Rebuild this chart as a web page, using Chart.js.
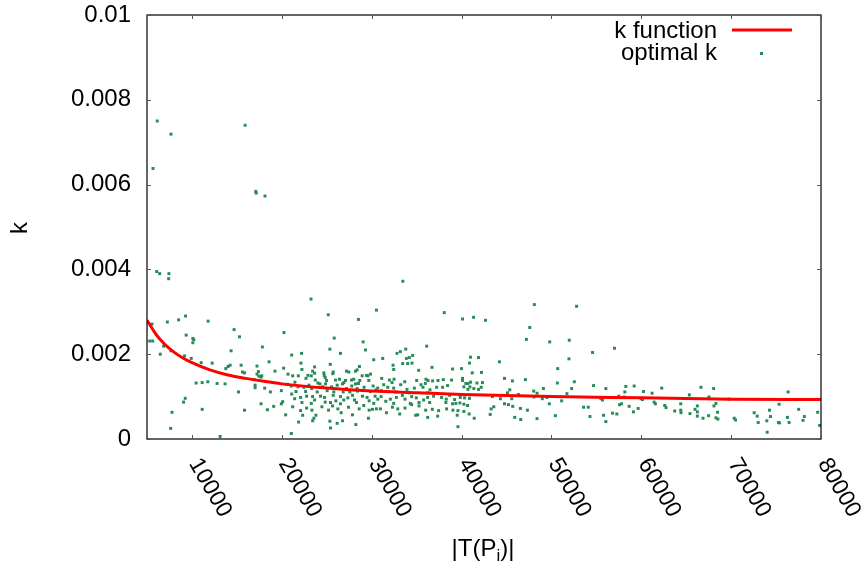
<!DOCTYPE html>
<html>
<head>
<meta charset="utf-8">
<script src="https://cdn.jsdelivr.net/npm/chart.js@4/dist/chart.umd.min.js"></script>
<style>
  html, body { margin: 0; padding: 0; background: #fff; }
  #wrap { width: 865px; height: 566px; }
</style>
</head>
<body>
<div id="wrap"><canvas id="c" width="865" height="566"></canvas></div>
<script>
// ---- data ----
const xTickValues = [10000, 20000, 30000, 40000, 50000, 60000, 70000, 80000];
const yTickValues = [0, 0.002, 0.004, 0.006, 0.008, 0.01];

// k function (red curve), sampled along |T(P_i)|
const curveX = [5000, 6000, 7000, 8000, 9000, 10000, 12000, 14000, 16000, 18000, 20000, 25000, 30000, 35000, 40000, 50000, 60000, 70000, 80000];
const curveK = [0.0028, 0.00247, 0.00223, 0.00205, 0.00191, 0.0018, 0.00163, 0.00151, 0.00143, 0.00136, 0.0013, 0.0012, 0.00113, 0.00109, 0.00105, 0.001, 0.00097, 0.00094, 0.00093];

// optimal k (green points): [ |T(P_i)| , k ]
const optimalPts = [
[6140,0.0075],[7670,0.00719],[5670,0.00638],[15920,0.0074],[17100,0.00584],[17150,0.0058],[18130,0.00573],[6080,0.00395],[6410,0.0039],[7440,0.0039],[7410,0.00378],[23250,0.0033],[33470,0.00372],[48100,0.00317],[52800,0.00313],[38080,0.00298],[40110,0.00283],[41340,0.00287],[42670,0.0028],[25170,0.00293],[30530,0.00304],[28530,0.00282],[25830,0.00238],[29050,0.00229],[47590,0.00263],[47220,0.00235],[49810,0.00229],[51990,0.00233],[57020,0.00214],[54580,0.00204],[51950,0.00189],[44220,0.00182],[41000,0.00193],[41890,0.00192],[40890,0.00179],[39000,0.00165],[40000,0.00166],[41190,0.00156],[42220,0.00157],[50700,0.00166],
[5560,0.00271],[7260,0.00276],[8520,0.00281],[9290,0.0029],[11800,0.00278],[5300,0.00231],[5630,0.00231],[6480,0.002],[6850,0.00219],[7660,0.00208],[9360,0.00245],[10100,0.00237],[10210,0.00234],[10100,0.00227],[14690,0.00258],[15290,0.00241],[20240,0.00251],[9180,0.00196],[9920,0.0019],[14360,0.00208],[17840,0.00217],[11030,0.0018],[12250,0.00179],[13770,0.00166],[14020,0.00171],[14250,0.00174],[15470,0.00174],[15620,0.00158],[15850,0.00156],[17240,0.00172],[18580,0.00182],[19240,0.0016],[20210,0.00167],[20690,0.00153],[17400,0.00159],[17240,0.00153],[17460,0.00148],[17770,0.00149],[17690,0.00146],[16910,0.0014],[10470,0.00132],[11140,0.00133],[11770,0.00135],[12800,0.00131],[13690,0.0013],[17030,0.00127],[17030,0.00121],[18100,0.0012],[15180,0.00111],[18730,0.00111],[19950,0.00114],[20620,0.00129],[21460,0.00134],[19950,0.00083],[20100,0.00088],[19100,0.00077],[18400,0.00069],[17690,0.00083],[15850,0.00068],[11140,0.0007],[9250,0.00096],[9070,0.00087],[7780,0.00063],[7630,0.00025],[13140,0.00006],[20430,0.00057],
[22200,0.00202],[21100,0.00198],[26530,0.00202],[25350,0.00212],[29310,0.0021],[36120,0.00219],[32820,0.00202],[33190,0.00206],[33790,0.00212],[34190,0.00192],[33860,0.0019],[34560,0.00197],[30230,0.00187],[31230,0.0019],[34490,0.00179],[34010,0.00178],[33450,0.00178],[32380,0.00174],[32450,0.00164],[36710,0.00169],[35230,0.00162],[22130,0.00179],[22240,0.00164],[23650,0.0017],[25390,0.00176],[28380,0.00163],[28640,0.00171],
[23430,0.0016],[23650,0.00155],[24680,0.00156],[24720,0.0015],[25720,0.00158],[25680,0.00154],[27200,0.0016],[27460,0.00158],[28200,0.0016],[29860,0.00153],[29570,0.00149],[29420,0.0015],[28940,0.00149],[24830,0.00145],[21210,0.00149],[21840,0.00149],[23280,0.00149],[22910,0.0015],[22690,0.00143],[24980,0.00138],[23720,0.00139],[24020,0.00132],[26420,0.00141],[25980,0.00139],[27090,0.00138],[26900,0.00133],[28010,0.00141],[28680,0.00138],[27760,0.00139],[28530,0.00131],[29680,0.00138],[31120,0.00143],[31970,0.00139],[32490,0.00141],[32270,0.00133],[33680,0.00135],[35010,0.00138],[36040,0.00141],[36270,0.00138],[36780,0.00137],[35970,0.00131],[35490,0.00128],
[21060,0.00125],[21800,0.00123],[22460,0.00122],[23020,0.00127],[23320,0.00119],[24240,0.0013],[24540,0.00123],[24870,0.0013],[25540,0.00123],[26160,0.00127],[26760,0.0013],[27200,0.00119],[27790,0.00125],[28200,0.0013],[28380,0.00119],[29160,0.00122],[30160,0.00125],[30680,0.0012],[30490,0.00116],[31340,0.00128],[31790,0.00122],[32450,0.0012],[33230,0.00128],[33930,0.00117],[34750,0.0012],[35710,0.00122],[36490,0.00116],[36230,0.00109],[34160,0.00109],[32680,0.00111],[31090,0.00114],[29860,0.00112],[28420,0.00113],[27570,0.00111],[26830,0.00111],[25790,0.00111],[25050,0.00114],[23940,0.00111],[22650,0.00112],[21580,0.00112],
[21100,0.00106],[21430,0.00095],[22090,0.00098],[22760,0.00101],[23430,0.001],[23650,0.00092],[24310,0.00101],[24760,0.00098],[24830,0.00087],[25720,0.00103],[26020,0.0009],[26530,0.001],[26900,0.00092],[27350,0.00097],[27870,0.00103],[28090,0.00092],[28980,0.00101],[29490,0.00098],[29720,0.0009],[30380,0.00101],[30680,0.00094],[31050,0.001],[31570,0.00089],[32080,0.00094],[32750,0.00098],[33420,0.00103],[33710,0.00094],[34450,0.001],[34970,0.00097],[35270,0.00086],[35780,0.00092],[36230,0.00098],[36890,0.00101],[36450,0.00086],[34300,0.00084],[32450,0.00084],[30230,0.00084],[28310,0.00086],[26530,0.00083],[25420,0.00086],[23280,0.00084],[22240,0.00086],
[21210,0.00076],[22090,0.00067],[22320,0.00056],[22760,0.00073],[23350,0.00068],[23800,0.00056],[24460,0.00076],[25200,0.00068],[25650,0.00078],[26240,0.00071],[26610,0.00062],[27420,0.00075],[27870,0.00057],[28610,0.00071],[29120,0.00079],[29720,0.00068],[30090,0.0007],[30970,0.00071],[31640,0.00062],[32310,0.00075],[32900,0.00071],[33120,0.00059],[33710,0.00073],[34450,0.00081],[35120,0.00057],[36010,0.00068],[36750,0.0007],[35270,0.00078],[30530,0.00071],
[21870,0.0004],[23430,0.00043],[23570,0.00049],[25350,0.00042],[25420,0.00026],[26160,0.00037],[26760,0.00043],[28240,0.00034],[29640,0.00049],[36230,0.00051],[21060,0.00013],[34900,0.00056],
[37780,0.00098],[38300,0.00094],[38670,0.00103],[39230,0.00093],[39860,0.00098],[40340,0.00097],[40890,0.00096],[43440,0.001],[44330,0.00095],[45590,0.00095],[48070,0.00099],[48990,0.00095],[49510,0.00098],[51730,0.00107],[55510,0.00095],[55690,0.00092],[57500,0.00101],[58100,0.00099],
[38260,0.00086],[39000,0.00083],[39370,0.00084],[39820,0.00085],[40260,0.00082],[40670,0.00079],[37450,0.00067],[38340,0.00071],[39040,0.00068],[39600,0.00067],[40260,0.00065],[40850,0.00059],[41410,0.00049],[39520,0.00056],[37340,0.00054],[39600,0.00029],
[43590,0.00076],[43300,0.00071],[44780,0.00083],[45220,0.00081],[45700,0.00077],[46550,0.00072],[46590,0.00046],[45920,0.00051],[47330,0.00068],[48400,0.00048],[49770,0.00083],[50440,0.00055],[51140,0.0009],[53580,0.00075],[54100,0.00075],[54290,0.00053],[55800,0.00056],[56060,0.00041],[56800,0.00061],[57280,0.00059],[57580,0.00081],[57800,0.00083],[43190,0.00058],
[38890,0.00139],[37970,0.0014],[37380,0.00138],[40110,0.00143],[40110,0.00138],[44780,0.00143],[45660,0.00137],[47110,0.0014],[40480,0.00131],[40710,0.00131],[41000,0.00134],[41710,0.00132],[42330,0.00133],[38450,0.00126],[37890,0.00122],[37230,0.00122],[40260,0.00123],[40710,0.00117],[40930,0.00123],[41370,0.00119],[41890,0.00117],[42190,0.00122],[45110,0.00109],[45370,0.00116],[50660,0.00132],[52550,0.00135],[52250,0.00119],[54690,0.00126],[56060,0.00119],[49110,0.00119],[48030,0.00113],[48400,0.00108],[46330,0.00105],
[58280,0.00124],[59210,0.00125],[58170,0.00111],[60240,0.00112],[61200,0.00108],[62280,0.0012],[65350,0.00104],[66640,0.00122],[68050,0.00119],[67530,0.00099],[69750,0.00094],[59980,0.00095],[60130,0.00093],[61430,0.00087],[61570,0.00083],[58650,0.00077],[59650,0.00072],[59130,0.00064],[62610,0.00079],[62760,0.00074],[63720,0.00066],[64390,0.00083],[64390,0.00068],[64420,0.00062],[65420,0.0006],[65980,0.0007],[66240,0.00078],[66240,0.00064],[66240,0.00054],[66870,0.00049],[67490,0.00055],[68310,0.00084],[68090,0.00078],[68490,0.00063],[68310,0.0005],[68530,0.00047],[70340,0.00049],[70490,0.00045],[72560,0.00062],[72900,0.00054],[73010,0.00039],[74270,0.00068],[74380,0.00053],[73970,0.00043],[74010,0.00016],[75260,0.00039],[75380,0.00038],[75340,0.00082],[76340,0.00111],[76260,0.00051],[76450,0.00039],[77520,0.0007],[78150,0.00053],[78000,0.00044],[79630,0.00063],[79850,0.00032]
];

const FONT = '"Liberation Sans", Arial, sans-serif';
const GREEN = 'rgb(38,139,84)';
const RED = '#ff0000';

// ---- custom drawing: frame, inward ticks, rotated x labels, titles, legend ----
const gnuplotLook = {
  id: 'gnuplotLook',
  afterDraw(chart) {
    const ctx = chart.ctx;
    const a = chart.chartArea;
    const xs = chart.scales.x, ys = chart.scales.y;
    ctx.save();
    // frame
    ctx.strokeStyle = '#000';
    ctx.lineWidth = 1.2;
    ctx.strokeRect(a.left, a.top, a.right - a.left, a.bottom - a.top);
    // inward ticks
    ctx.strokeStyle = '#555';
    ctx.lineWidth = 1;
    ctx.beginPath();
    xTickValues.forEach(v => {
      const p = Math.round(xs.getPixelForValue(v)) + 0.5;
      ctx.moveTo(p, a.bottom); ctx.lineTo(p, a.bottom - 4);
      ctx.moveTo(p, a.top); ctx.lineTo(p, a.top + 4);
    });
    yTickValues.forEach(v => {
      const p = Math.round(ys.getPixelForValue(v)) + 0.5;
      ctx.moveTo(a.left, p); ctx.lineTo(a.left + 4, p);
      ctx.moveTo(a.right, p); ctx.lineTo(a.right - 4, p);
    });
    ctx.stroke();
    // rotated x tick labels
    ctx.fillStyle = '#000';
    ctx.font = '23px ' + FONT;
    ctx.textAlign = 'left';
    ctx.textBaseline = 'middle';
    xTickValues.forEach(v => {
      const p = xs.getPixelForValue(v);
      ctx.save();
      ctx.translate(p + 2, a.bottom + 21);
      ctx.rotate(60 * Math.PI / 180);
      ctx.fillText(String(v), 0, 0);
      ctx.restore();
    });
    // y title
    ctx.save();
    ctx.font = '24px ' + FONT;
    ctx.translate(20, 228);
    ctx.rotate(-Math.PI / 2);
    ctx.textAlign = 'center';
    ctx.textBaseline = 'middle';
    ctx.fillText('k', 0, 0);
    ctx.restore();
    // x title |T(P_i)|
    ctx.textBaseline = 'alphabetic';
    ctx.textAlign = 'left';
    const big = '24px ' + FONT, small = '17px ' + FONT;
    ctx.font = big; const w1 = ctx.measureText('|T(P').width; const w3 = ctx.measureText(')|').width;
    ctx.font = small; const w2 = ctx.measureText('i').width;
    const cx = (a.left + a.right) / 2 - 1;
    let sx = cx - (w1 + w2 + w3) / 2;
    const by = 556;
    ctx.font = big; ctx.fillText('|T(P', sx, by); sx += w1;
    ctx.font = small; ctx.fillText('i', sx, by + 5); sx += w2;
    ctx.font = big; ctx.fillText(')|', sx, by);
    // legend
    ctx.font = '24px ' + FONT;
    ctx.textAlign = 'right';
    ctx.fillText('k function', 717, 38);
    ctx.fillText('optimal k', 717, 60);
    ctx.strokeStyle = RED; ctx.lineWidth = 3;
    ctx.beginPath(); ctx.moveTo(732, 30); ctx.lineTo(792, 30); ctx.stroke();
    ctx.fillStyle = GREEN;
    ctx.fillRect(760, 52, 3, 3);
    ctx.restore();
  }
};

new Chart(document.getElementById('c'), {
  data: {
    datasets: [
      {
        type: 'line',
        label: 'k function',
        data: curveX.map((x, i) => ({ x: x, y: curveK[i] })),
        borderColor: RED,
        borderWidth: 3,
        pointRadius: 0,
        fill: false,
        cubicInterpolationMode: 'monotone',
        order: 0
      },
      {
        type: 'scatter',
        label: 'optimal k',
        data: optimalPts.map(p => ({ x: p[0], y: p[1] })),
        backgroundColor: GREEN,
        borderColor: GREEN,
        borderWidth: 0,
        pointStyle: 'rect',
        pointRadius: 2.1,
        pointHoverRadius: 2.1,
        order: 1
      }
    ]
  },
  options: {
    responsive: false,
    devicePixelRatio: 1,
    animation: false,
    events: [],
    layout: { padding: { left: 0, right: 44, top: 0, bottom: 0 } },
    plugins: { legend: { display: false }, tooltip: { enabled: false } },
    scales: {
      x: {
        type: 'linear',
        min: 5000, max: 80000,
        grid: { display: false, drawTicks: false },
        border: { display: false },
        ticks: { display: false },
        afterFit(scale) { scale.height = 127; scale.paddingLeft = 0; scale.paddingRight = 0; }
      },
      y: {
        type: 'linear',
        min: 0, max: 0.01,
        afterBuildTicks(scale) { scale.ticks = yTickValues.map(v => ({ value: v })); },
        grid: { display: false, drawTicks: false },
        border: { display: false },
        ticks: {
          color: '#000',
          padding: 16,
          font: { family: FONT, size: 24 },
          callback: v => String(+(+v).toFixed(3))
        },
        afterFit(scale) { scale.width = 147; scale.paddingTop = 15; scale.paddingBottom = 0; }
      }
    }
  },
  plugins: [gnuplotLook]
});
</script>
</body>
</html>
